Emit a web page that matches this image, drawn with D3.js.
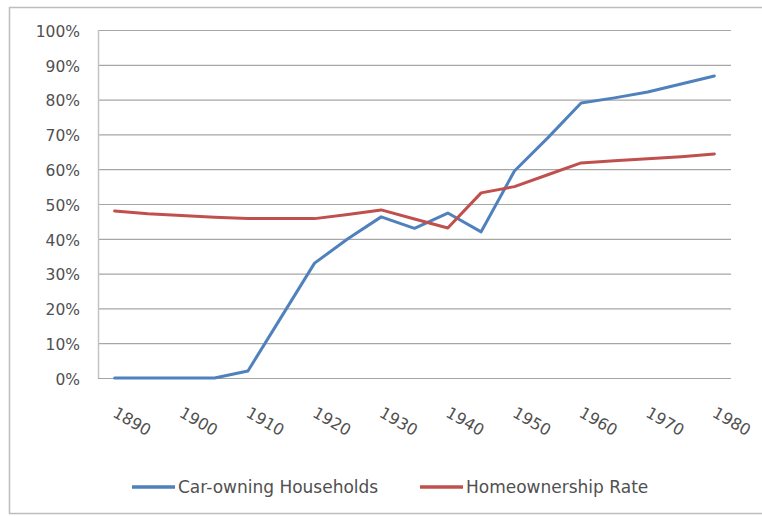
<!DOCTYPE html>
<html>
<head>
<meta charset="utf-8">
<title>Car ownership and homeownership</title>
<script src="https://cdn.jsdelivr.net/npm/d3@7/dist/d3.min.js" charset="utf-8"></script>
<style type="text/css">
	body {
		margin: 0;
		background: #fff;
	}
	text {
		font-family: "DejaVu Sans", sans-serif;
		font-size: 15.5px;
		fill: #505050;
	}
	.xlab text {
		font-size: 16px;
	}
	.legend text {
		font-size: 17px;
	}
	.grid line {
		stroke: #a6a6a6;
		stroke-width: 1.2px;
	}
	.series {
		fill: none;
		stroke-width: 3px;
		stroke-linejoin: round;
		stroke-linecap: round;
	}
</style>
</head>
<body>

<script type="text/javascript">

// every 5 years, 1890 .. 1980
var years = [1890, 1895, 1900, 1905, 1910, 1915, 1920, 1925, 1930, 1935,
             1940, 1945, 1950, 1955, 1960, 1965, 1970, 1975, 1980];
var carOwning = [0, 0, 0, 0, 2, 17.5, 33, 40, 46.3, 43,
                 47.4, 42, 59.5, 69, 79, 80.5, 82.2, 84.5, 86.8];
var homeOwnership = [48, 47.2, 46.7, 46.2, 45.8, 45.8, 45.8, 47, 48.3, 45.7,
                     43.1, 53.2, 55, 58.4, 61.8, 62.4, 63, 63.6, 64.4];
var yTicks = [0, 10, 20, 30, 40, 50, 60, 70, 80, 90, 100];
var xLabels = [1890, 1900, 1910, 1920, 1930, 1940, 1950, 1960, 1970, 1980];
var seriesNames = ["Car-owning Households", "Homeownership Rate"];
var colors = ["#4f81bd", "#c0504d"];

var width = 762,
    height = 516;

var plotLeft = 98, plotRight = 731, plotTop = 30, plotBottom = 378;

var svg = d3.select("body").append("svg").attr("width", width).attr("height", height);

// outer chart frame
svg.append("rect")
	.attr("x", 9.5).attr("y", 7.5)
	.attr("width", 800).attr("height", 506)
	.attr("fill", "none")
	.attr("stroke", "#bdbdbd")
	.attr("stroke-width", 1.5);

var x = d3.scalePoint().domain(years).range([plotLeft, plotRight]).padding(0.5);
var y = d3.scaleLinear().domain([0, 100]).range([plotBottom, plotTop]);

// horizontal gridlines + y labels
var yAxis = svg.append("g")
	.attr("class", "grid")
	.attr("transform", "translate(" + plotLeft + ",0)")
	.call(d3.axisLeft(y).tickValues(yTicks).tickSize(-(plotRight - plotLeft)).tickPadding(18)
		.tickFormat(function(d) { return d + "%"; }));
yAxis.select(".domain").remove();
yAxis.selectAll("text").attr("dy", "0.4em");

// left axis line
svg.append("line")
	.attr("x1", plotLeft + 0.5).attr("x2", plotLeft + 0.5)
	.attr("y1", plotTop).attr("y2", plotBottom)
	.attr("stroke", "#c4c4c4").attr("stroke-width", 1.5);

// rotated x labels, every other category
svg.append("g").attr("class", "xlab").selectAll("text")
	.data(xLabels).enter()
	.append("text")
	.attr("transform", function(d) { return "translate(" + (x(d) - 3) + "," + (plotBottom + 38) + ") rotate(30)"; })
	.attr("text-anchor", "start")
	.text(function(d) { return d; });

var line = d3.line()
	.x(function(d, i) { return x(years[i]); })
	.y(function(d) { return y(d); });

[carOwning, homeOwnership].forEach(function(vals, k) {
	svg.append("path")
		.datum(vals)
		.attr("class", "series")
		.attr("stroke", colors[k])
		.attr("d", line);
});

// legend
var legendX = [132, 420];
var legend = svg.append("g").attr("class", "legend");
seriesNames.forEach(function(name, k) {
	legend.append("line")
		.attr("x1", legendX[k]).attr("x2", legendX[k] + 43)
		.attr("y1", 487).attr("y2", 487)
		.attr("stroke", colors[k]).attr("stroke-width", 3.5);
	legend.append("text")
		.attr("x", legendX[k] + 46).attr("y", 493)
		.text(name);
});

</script>

</body>
</html>
